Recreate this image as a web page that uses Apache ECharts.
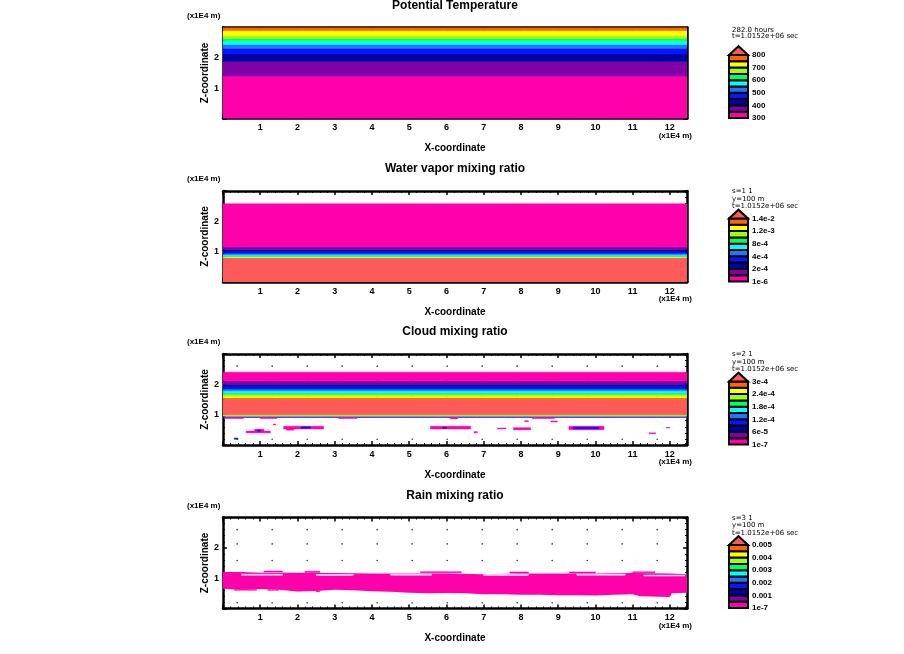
<!DOCTYPE html>
<html><head><meta charset="utf-8">
<script src="https://cdn.jsdelivr.net/npm/echarts/dist/echarts.min.js"></script>
<style>html,body{margin:0;padding:0;background:#fff}#c{width:904px;height:654px}</style>
</head><body><div id="c"></div>
<script>
// ---------- data ----------
const titles = ['Potential Temperature', 'Water vapor mixing ratio', 'Cloud mixing ratio', 'Rain mixing ratio'];
const infoLines = [
  ['282.0 hours', 't=1.0152e+06 sec'],
  ['s=1 1', 'y=100 m', 't=1.0152e+06 sec'],
  ['s=2 1', 'y=100 m', 't=1.0152e+06 sec'],
  ['s=3 1', 'y=100 m', 't=1.0152e+06 sec']
];
const barLabels = [
  ['300', '400', '500', '600', '700', '800'],
  ['1e-6', '2e-4', '4e-4', '8e-4', '1.2e-3', '1.4e-2'],
  ['1e-7', '6e-5', '1.2e-4', '1.8e-4', '2.4e-4', '3e-4'],
  ['1e-7', '0.001', '0.002', '0.003', '0.004', '0.005']
];
const levelColors = ['#ff00aa', '#8200a8', '#0000a0', '#0a14ff', '#1e78ff', '#00ffff', '#00ff64', '#a0ff00', '#ffff00', '#ff6400'];
const overColor = '#ff5a5a';
const X_MAX = 12.46, Z_MAX = 3;

// bands: [zBottom, zTop, level]  (level 10 = above max)
const thetaBands = [[0, 1.40, 0], [1.40, 1.88, 1], [1.88, 2.13, 2], [2.13, 2.32, 3], [2.32, 2.44, 4], [2.44, 2.56, 5], [2.56, 2.64, 6], [2.64, 2.73, 7], [2.73, 2.90, 8], [2.90, 3.0, 9]];
const qvBands = [[0, 0.80, 10], [0.80, 0.83, 8], [0.83, 0.86, 6], [0.86, 0.90, 5], [0.90, 0.94, 4], [0.94, 1.00, 3], [1.00, 1.08, 2], [1.08, 1.15, 1], [1.15, 2.58, 0]];
const qcBands = [[0.905, 0.935, 3], [0.955, 1.0, 7], [1.0, 1.51, 10], [1.51, 1.56, 9], [1.56, 1.61, 8], [1.61, 1.67, 7], [1.67, 1.72, 6], [1.72, 1.79, 5], [1.79, 1.84, 4], [1.84, 1.92, 3], [1.92, 2.0, 2], [2.0, 2.12, 1], [2.12, 2.4, 0]];
// patches: [x0, x1, z0, z1, level]
const qcPatches = [
  [0.05, 0.55, 0.875, 0.9, 0], [1.0, 1.45, 0.875, 0.9, 0], [3.1, 3.6, 0.875, 0.9, 0], [6.1, 6.3, 0.86, 0.9, 0], [8.3, 8.9, 0.875, 0.9, 0],
  [0.62, 1.27, 0.40, 0.46, 0], [0.85, 1.1, 0.46, 0.52, 0], [0.92, 1.0, 0.45, 0.5, 3], [0.3, 0.4, 0.19, 0.23, 3],
  [1.35, 1.42, 0.66, 0.69, 0], [1.63, 2.7, 0.53, 0.62, 0], [1.7, 1.9, 0.49, 0.53, 0], [2.1, 2.35, 0.55, 0.6, 3],
  [5.57, 6.65, 0.53, 0.62, 0], [5.9, 6.0, 0.55, 0.59, 3], [6.74, 6.83, 0.4, 0.44, 0],
  [7.37, 7.6, 0.53, 0.56, 0], [7.8, 8.26, 0.5, 0.57, 0], [8.1, 8.2, 0.77, 0.8, 0], [8.8, 8.98, 0.76, 0.79, 0],
  [9.29, 10.23, 0.5, 0.62, 0], [9.4, 10.1, 0.53, 0.59, 3], [11.44, 11.62, 0.37, 0.4, 0], [11.9, 12.0, 0.56, 0.58, 0]
];
// rain area outline
const rainTopX = [0, 0.5, 1, 2, 3, 4, 5, 6, 7, 8, 9, 10, 11, 12, 12.46];
const rainTopZ = [1.2, 1.2, 1.18, 1.18, 1.17, 1.15, 1.15, 1.15, 1.13, 1.15, 1.15, 1.15, 1.17, 1.15, 1.13];
const rainBotX = [0, 0.5, 1, 1.5, 2, 2.5, 3, 3.5, 4, 4.5, 5, 5.5, 6, 6.5, 7, 7.5, 8, 8.5, 9, 9.5, 10, 10.5, 11, 11.2, 12, 12.05, 12.46];
const rainBotZ = [0.65, 0.62, 0.64, 0.62, 0.56, 0.58, 0.62, 0.6, 0.57, 0.55, 0.52, 0.5, 0.51, 0.5, 0.47, 0.47, 0.45, 0.45, 0.44, 0.44, 0.43, 0.45, 0.47, 0.4, 0.38, 0.5, 0.52];
// rain fragments: [x0, x1, z0, z1, level]  (level -1 = gap)
const rainPatches = [
  [0.5, 1.6, 1.1, 1.13, -1], [2.5, 3.5, 1.09, 1.12, -1], [4.5, 5.6, 1.1, 1.13, -1], [7.0, 8.2, 1.09, 1.12, -1], [9.5, 10.8, 1.1, 1.13, -1], [11.3, 12.4, 1.07, 1.1, -1],
  [1.1, 1.6, 1.2, 1.235, 0], [2.2, 2.6, 1.19, 1.225, 0], [5.3, 6.4, 1.18, 1.215, 0], [7.7, 8.2, 1.17, 1.205, 0], [9.3, 10.0, 1.17, 1.205, 0], [11.0, 11.6, 1.18, 1.21, 0],
  [0.3, 0.9, 0.6, 0.63, 0], [1.2, 1.5, 0.6, 0.62, 0], [2.5, 2.6, 0.55, 0.58, 0]
];
// grid points of the model (small dots), shown in the cloud and rain panels
const dotX = [0.38, 1.32, 2.26, 3.2, 4.14, 5.08, 6.02, 6.96, 7.9, 8.84, 9.78, 10.72, 11.66];
const dotZ = [0.19, 1.58, 2.13, 2.6];

// ---------- layout ----------
const P_TOP = [27.5, 191, 354, 517.5];
const P_H = 91, P_L = 223, P_W = 464;
const FONT = 'Liberation Sans, Arial, sans-serif';

function colorOf(lv) { return lv < 0 ? '#ffffff' : (lv >= 10 ? overColor : levelColors[lv]); }

function rectItem(params, api) {
  const p0 = api.coord([api.value(0), api.value(2)]);
  const p1 = api.coord([api.value(1), api.value(3)]);
  const c = colorOf(api.value(4));
  return { type: 'rect', shape: { x: p0[0], y: p1[1], width: p1[0] - p0[0], height: p0[1] - p1[1] },
    style: { fill: c, stroke: c, lineWidth: 0.5 } };
}

function rainPoly(params, api) {
  const pts = [];
  for (let k = 0; k < rainTopX.length; k++) pts.push(api.coord([rainTopX[k], rainTopZ[k]]));
  for (let k = rainBotX.length - 1; k >= 0; k--) pts.push(api.coord([rainBotX[k], rainBotZ[k]]));
  return { type: 'polygon', shape: { points: pts }, style: { fill: levelColors[0] } };
}

function barItem(params, api) {
  const k = api.value(1);
  if (k < 10) {
    const p0 = api.coord([0, k]), p1 = api.coord([1, k + 1]);
    return { type: 'rect', shape: { x: p0[0], y: p1[1], width: p1[0] - p0[0], height: p0[1] - p1[1] },
      style: { fill: levelColors[k], stroke: '#000', lineWidth: 2 } };
  }
  const a = api.coord([0, 10]), b = api.coord([0.5, 11.4]), c = api.coord([1, 10]);
  return { type: 'polygon', shape: { points: [a, b, c] }, style: { fill: overColor, stroke: '#000', lineWidth: 2 } };
}

const option = { animation: false, backgroundColor: '#fff', grid: [], xAxis: [], yAxis: [], series: [], graphic: [] };

const tickLbl = { color: '#000', fontSize: 9, fontWeight: 'bold', fontFamily: FONT };
const lineSt = { color: '#000', width: 2.5 };

const allPanels = [
  thetaBands.map(b => [0, X_MAX, b[0], b[1], b[2]]),
  qvBands.map(b => [0, X_MAX, b[0], b[1], b[2]]),
  qcBands.map(b => [0, X_MAX, b[0], b[1], b[2]]).concat(qcPatches),
  rainPatches
];

const dots = [];
dotX.forEach(x => dotZ.forEach(z => dots.push([x, z])));

for (let i = 0; i < 4; i++) {
  const top = P_TOP[i];
  const gMain = option.grid.length;
  option.grid.push({ left: P_L, top: top, width: P_W, height: P_H, outerBoundsMode: 'none', containLabel: false });
  const gBar = option.grid.length;
  option.grid.push({ left: 729, top: top + 27.5, width: 19, height: 63, outerBoundsMode: 'none', containLabel: false });

  const xMain = option.xAxis.length;
  option.xAxis.push({
    gridIndex: gMain, type: 'value', position: 'bottom', min: 0, max: X_MAX, interval: 1,
    name: 'X-coordinate', nameLocation: 'middle', nameGap: 25, nameMoveOverlap: false,
    nameTextStyle: { color: '#000', fontSize: 10, fontWeight: 'bold', fontFamily: FONT },
    axisLine: { show: true, onZero: false, lineStyle: lineSt },
    axisTick: { show: true, inside: true, length: 4, lineStyle: { color: '#000', width: 1.5 } },
    minorTick: { show: true, splitNumber: 5, length: 2, lineStyle: { color: '#000', width: 1 } },
    splitLine: { show: false },
    axisLabel: { ...tickLbl, margin: 5, showMinLabel: true, showMaxLabel: true,
      formatter: v => (v > 0 && Math.abs(v - Math.round(v)) < 1e-6) ? String(Math.round(v)) : '' }
  });
  option.xAxis.push({
    gridIndex: gMain, type: 'value', position: 'top', min: 0, max: X_MAX, interval: 1,
    axisLine: { show: true, onZero: false, lineStyle: lineSt },
    axisTick: { show: true, inside: true, length: 4, lineStyle: { color: '#000', width: 1.5 } },
    minorTick: { show: true, splitNumber: 5, length: 2, lineStyle: { color: '#000', width: 1 } },
    splitLine: { show: false }, axisLabel: { show: false }
  });
  const xBar = option.xAxis.length;
  option.xAxis.push({ gridIndex: gBar, type: 'value', min: 0, max: 1, show: false });

  const yMain = option.yAxis.length;
  option.yAxis.push({
    gridIndex: gMain, type: 'value', position: 'left', min: 0, max: Z_MAX, interval: 1,
    name: 'Z-coordinate', nameLocation: 'middle', nameGap: 13, nameRotate: 90, nameMoveOverlap: false,
    nameTextStyle: { color: '#000', fontSize: 10, fontWeight: 'bold', fontFamily: FONT },
    axisLine: { show: true, onZero: false, lineStyle: lineSt },
    axisTick: { show: true, inside: true, length: 4, lineStyle: { color: '#000', width: 1.5 } },
    minorTick: { show: true, splitNumber: 5, length: 2, lineStyle: { color: '#000', width: 1 } },
    splitLine: { show: false },
    axisLabel: { ...tickLbl, margin: 4, formatter: v => (v === 1 || v === 2) ? String(v) : '' }
  });
  option.yAxis.push({
    gridIndex: gMain, type: 'value', position: 'right', min: 0, max: Z_MAX, interval: 1,
    axisLine: { show: true, onZero: false, lineStyle: lineSt },
    axisTick: { show: true, inside: true, length: 4, lineStyle: { color: '#000', width: 1.5 } },
    minorTick: { show: true, splitNumber: 5, length: 2, lineStyle: { color: '#000', width: 1 } },
    splitLine: { show: false }, axisLabel: { show: false }
  });
  const yBar = option.yAxis.length;
  const labs = barLabels[i];
  option.yAxis.push({
    gridIndex: gBar, type: 'value', position: 'right', min: 0, max: 10, interval: 2,
    axisLine: { show: false }, axisTick: { show: false }, splitLine: { show: false },
    axisLabel: { color: '#000', fontSize: 8, fontWeight: 'bold', fontFamily: FONT, margin: 4,
      showMinLabel: true, showMaxLabel: true, formatter: v => labs[Math.round(v / 2)] || '' }
  });

  if (i >= 2) {
    option.series.push({ type: 'scatter', xAxisIndex: xMain, yAxisIndex: yMain, data: dots,
      symbolSize: 1.6, itemStyle: { color: '#000' }, z: 1, silent: true });
  }
  if (i === 3) {
    option.series.push({ type: 'custom', xAxisIndex: xMain, yAxisIndex: yMain, data: [[0, 0]],
      renderItem: rainPoly, clip: true, z: 2, silent: true });
  }
  option.series.push({ type: 'custom', xAxisIndex: xMain, yAxisIndex: yMain, data: allPanels[i],
    renderItem: rectItem, clip: true, z: 3, silent: true });
  const barData = [];
  for (let k = 0; k <= 10; k++) barData.push([0, k]);
  option.series.push({ type: 'custom', xAxisIndex: xBar, yAxisIndex: yBar, data: barData,
    renderItem: barItem, clip: false, z: 3, silent: true });

  // texts
  option.graphic.push({ type: 'text', x: P_L + P_W / 2, y: top - 22,
    style: { text: titles[i], fill: '#000', font: 'bold 12px ' + FONT, align: 'center', verticalAlign: 'middle' } });
  option.graphic.push({ type: 'text', x: 187, y: top - 12,
    style: { text: '(x1E4 m)', fill: '#000', font: 'bold 8px ' + FONT, align: 'left', verticalAlign: 'middle' } });
  option.graphic.push({ type: 'text', x: 692, y: top + P_H + 17,
    style: { text: '(x1E4 m)', fill: '#000', font: 'bold 8px ' + FONT, align: 'right', verticalAlign: 'middle' } });
  const lines = infoLines[i];
  const step = lines.length === 2 ? 5.5 : 7.5;
  const y0 = lines.length === 2 ? top + 3 : top + 0.5;
  lines.forEach((t, k) => {
    option.graphic.push({ type: 'text', x: 732, y: y0 + k * step,
      style: { text: t, fill: '#000', font: '7px DejaVu Sans, sans-serif', align: 'left', verticalAlign: 'middle' } });
  });
}

const chart = echarts.init(document.getElementById('c'), null, { renderer: 'canvas' });
chart.setOption(option);
</script>
</body></html>
